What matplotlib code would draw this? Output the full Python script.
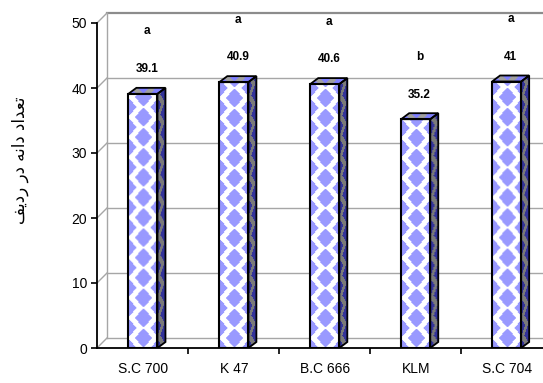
import numpy as np
import matplotlib
matplotlib.use("Agg")
import matplotlib.pyplot as plt
from matplotlib.patches import Polygon
from matplotlib.colors import to_rgb

# seeds per row for each hybrid, with mean-comparison letters
hybrids = ["S.C 700", "K 47", "B.C 666", "KLM", "S.C 704"]
seeds_per_row = [39.1, 40.9, 40.6, 35.2, 41]
groups = ["a", "a", "a", "b", "a"]

# "تعداد دانه در ردیف" written with Arabic presentation forms, visual order
ylabel = " ".join([
    "\uFED2\uFEF3\uFEA9\uFEAD",
    "\uFEAD\uFEA9",
    "\uFEEA\uFEE7\uFE8D\uFEA9",
    "\uFEA9\uFE8D\uFEAA\uFECC\uFE97",
])

plt.rcParams["font.family"] = ["Liberation Sans", "DejaVu Sans"]

W, H = 543, 383
fig = plt.figure(figsize=(W / 100, H / 100), dpi=100)
ax = fig.add_axes([97 / W, (H - 348) / H, (543 - 97) / W, (348 - 23) / H])
xmin, xmax = -0.505, 4.40
ymax = 50
kx = (543 - 97) / (xmax - xmin)   # pixels per x unit
ky = (348 - 23) / ymax            # pixels per y unit

# depth of the back wall and of each bar, in data units
wdx, wdy = 10 / kx, 10 / ky
bdx, bdy = 8 / kx, 6 / ky


def diamond_mask(X, Y, cw=15.0, ch=10.0, a=8.2, b=10.0):
    p = X / cw
    q = Y / ch
    s = np.round((p + q) / 2)
    t = np.round((p - q) / 2)
    p0 = s + t
    q0 = s - t
    return np.abs(p - p0) * cw / a + np.abs(q - q0) * ch / b <= 1


def fill_face(poly, bg, fg, shear=0.0, xstretch=1.0, lw=1.3):
    poly = np.asarray(poly, dtype=float)
    ext = [poly[:, 0].min(), poly[:, 0].max(), poly[:, 1].min(), poly[:, 1].max()]
    nx = max(int(round((ext[1] - ext[0]) * kx)), 1)
    ny = max(int(round((ext[3] - ext[2]) * ky)), 1)
    X, Y = np.meshgrid(np.arange(nx) + 0.5, np.arange(ny) + 0.5)
    Y = Y - shear * X
    X = X * xstretch
    mask = diamond_mask(X, Y)
    img = np.where(mask[..., None], np.array(to_rgb(fg)), np.array(to_rgb(bg)))
    im = ax.imshow(img, extent=ext, origin="lower", interpolation="bilinear",
                   aspect="auto", zorder=3)
    edge = Polygon(poly, closed=True, fc="none", ec="black", lw=lw, zorder=4)
    ax.add_patch(edge)
    im.set_clip_path(edge)


# back wall, side wall and floor
grid_c = "#a6a6a6"
for v in range(10, ymax + 1, 10):
    c = "#8c8c8c" if v == ymax else grid_c
    lw = 1.6 if v == ymax else 1.0
    ax.plot([xmin + wdx, xmax], [v + wdy, v + wdy], color=c, lw=lw, clip_on=False, zorder=1)
    ax.plot([xmin, xmin + wdx], [v, v + wdy], color=grid_c, lw=1.0, clip_on=False, zorder=1)
ax.plot([xmin + wdx, xmin + wdx], [wdy, ymax + wdy], color=grid_c, lw=1.0, clip_on=False, zorder=1)
ax.plot([xmin, xmin + wdx], [0, wdy], color=grid_c, lw=1.0, zorder=1)
ax.plot([xmin + wdx, xmax], [wdy, wdy], color=grid_c, lw=1.0, zorder=1)

# bars
for i, (v, g) in enumerate(zip(seeds_per_row, groups)):
    fx0, fx1 = i - 0.16, i + 0.16
    front = [(fx0, 0), (fx1, 0), (fx1, v), (fx0, v)]
    side = [(fx1, 0), (fx1 + bdx, bdy), (fx1 + bdx, v + bdy), (fx1, v)]
    cap = [(fx0, v), (fx1, v), (fx1 + bdx, v + bdy), (fx0 + bdx, v + bdy)]
    fill_face(front, "white", "#9999ff", lw=1.5)
    fill_face(side, "#7a7a7a", "#333399", shear=bdy * ky / (bdx * kx), xstretch=2.0)
    fill_face(cap, "#a0a0a0", "#8080ff")
    ax.text(i + bdx / 2, v + 3.8, f"{v:g}", ha="center", va="center",
            fontsize=8.5, fontweight="bold", zorder=5)
    ax.text(i + bdx / 2, v + 9.6, g, ha="center", va="center",
            fontsize=8.5, fontweight="bold", zorder=5, clip_on=False)

ax.set_xlim(xmin, xmax)
ax.set_ylim(0, ymax)
ax.set_autoscale_on(False)

for side_name in ["top", "right"]:
    ax.spines[side_name].set_visible(False)
for side_name in ["left", "bottom"]:
    ax.spines[side_name].set_linewidth(1.3)
    ax.spines[side_name].set_color("black")
    ax.spines[side_name].set_zorder(6)

ax.set_yticks(range(0, ymax + 1, 10))
ax.tick_params(axis="y", direction="out", length=4, width=1.2, labelsize=10, pad=3)
ax.set_xticks(range(len(hybrids)))
ax.set_xticklabels(hybrids)
ax.set_xticks(np.arange(len(hybrids) - 1) + 0.5, minor=True)
ax.tick_params(axis="x", which="major", length=0, labelsize=10, pad=10)
ax.tick_params(axis="x", which="minor", direction="out", length=4, width=1.2)

fig.text(20 / W, 1 - 160 / H, ylabel, rotation=90, ha="center", va="center",
         fontsize=12, family="DejaVu Sans")

fig.savefig("out.png", dpi=100)
